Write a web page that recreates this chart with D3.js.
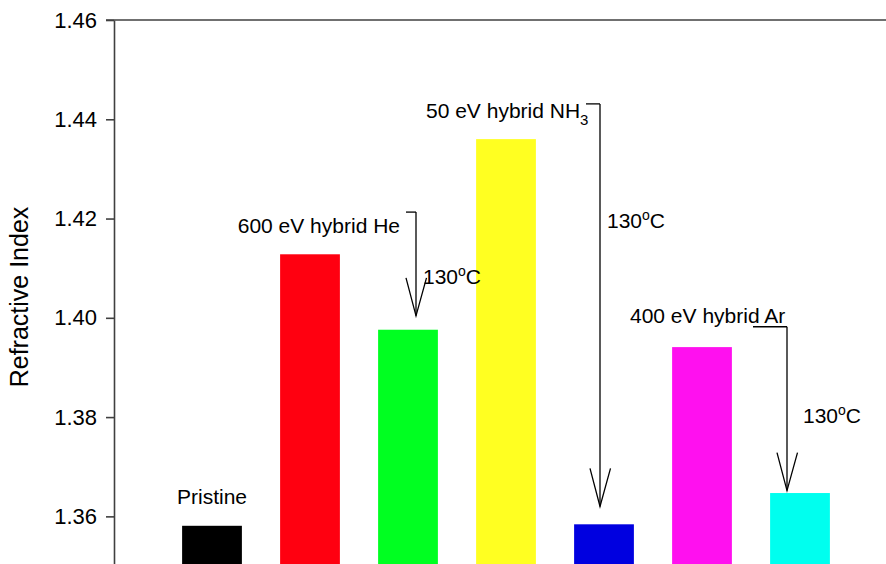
<!DOCTYPE html>
<html>
<head>
<meta charset="utf-8">
<script src="https://cdn.jsdelivr.net/npm/d3@7"></script>
<style>
  body { margin: 0; background: #fff; }
  text { font-family: "Liberation Sans", Arial, sans-serif; }
</style>
</head>
<body>
<div id="chart"></div>
<script>
// data
var samples = ["Pristine", "600 eV He", "600 eV He 130C", "50 eV NH3", "50 eV NH3 130C", "400 eV Ar", "400 eV Ar 130C"];
var refractiveIndex = [1.3581, 1.4128, 1.3976, 1.4360, 1.3584, 1.3941, 1.3647];
var barColors = ["#000000", "#ff0010", "#00ff21", "#ffff21", "#0000e0", "#ff10ef", "#00ffef"];
var yTicks = [1.36, 1.38, 1.40, 1.42, 1.44, 1.46];

// annotation arrows: from treated sample to annealed sample
var arrowTargets = ["600 eV He 130C", "50 eV NH3 130C", "400 eV Ar 130C"];
var arrowFrom = [1.4213, 1.4431, 1.3982];
var arrowTo = [1.4004, 1.3620, 1.3652];

var svgWidth = 886;
var svgHeight = 564;

var margin = { top: 20, left: 114 };

var svg = d3.select("#chart")
  .append("svg")
  .attr("width", svgWidth)
  .attr("height", svgHeight)
  .style("display", "block");

// scales
var xScale = d3.scaleBand()
  .domain(samples)
  .range([163, 849])
  .paddingInner(0.39)
  .paddingOuter(0.195);

var yScale = d3.scaleLinear()
  .domain([1.35, 1.46])
  .range([566, margin.top]);

// bars
svg.selectAll("rect.bar")
  .data(samples)
  .enter()
  .append("rect")
  .attr("class", "bar")
  .attr("x", d => xScale(d))
  .attr("width", xScale.bandwidth())
  .attr("y", (d, i) => yScale(refractiveIndex[i]))
  .attr("height", (d, i) => yScale(1.35) - yScale(refractiveIndex[i]))
  .attr("fill", (d, i) => barColors[i]);

// y axis
var leftAxis = d3.axisLeft(yScale)
  .tickValues(yTicks)
  .tickFormat(d3.format(".2f"))
  .tickSize(8)
  .tickPadding(9)
  .tickSizeOuter(0);

var yAxis = svg.append("g")
  .attr("transform", `translate(${margin.left}, 0)`)
  .call(leftAxis);

yAxis.select(".domain").attr("stroke", "#404040").attr("stroke-width", 1.6);
yAxis.selectAll(".tick line").attr("stroke", "#404040").attr("stroke-width", 1.6);
yAxis.selectAll(".tick text")
  .attr("fill", "#000")
  .style("font-size", "22px")
  .style("font-family", "'Liberation Sans', Arial, sans-serif");

// top frame line
svg.append("line")
  .attr("x1", margin.left - 8)
  .attr("x2", svgWidth)
  .attr("y1", yScale(1.46))
  .attr("y2", yScale(1.46))
  .attr("stroke", "#404040")
  .attr("stroke-width", 1.6);

// y axis label
svg.append("text")
  .attr("transform", "rotate(-90)")
  .attr("x", -297)
  .attr("y", 28)
  .attr("text-anchor", "middle")
  .style("font-size", "25px")
  .text("Refractive Index");

// Pristine label
svg.append("text")
  .attr("x", xScale("Pristine") + xScale.bandwidth() / 2)
  .attr("y", 504)
  .attr("text-anchor", "middle")
  .style("font-size", "21px")
  .text("Pristine");

// arrows
var arrowDx = [8, -4, -13];      // offset of arrow from bar centre
var bracketLen = [10, 14, 34];   // short horizontal stub at arrow top
var tempDx = [7, 7, 16];
var tempY = [284, 228, 423];

arrowTargets.forEach(function(target, i) {
  var ax = xScale(target) + xScale.bandwidth() / 2 + arrowDx[i];
  var y0 = yScale(arrowFrom[i]);
  var y1 = yScale(arrowTo[i]);
  var g = svg.append("g").attr("stroke", "#000").attr("stroke-width", 1.3).attr("fill", "none");
  g.append("line").attr("x1", ax - bracketLen[i]).attr("x2", ax).attr("y1", y0).attr("y2", y0);
  g.append("line").attr("x1", ax).attr("x2", ax).attr("y1", y0).attr("y2", y1);
  g.append("polyline")
    .attr("points", [[ax - 10, y1 - 38], [ax, y1], [ax + 10.5, y1 - 38]].map(p => p.join(",")).join(" "));

  var t = svg.append("text")
    .attr("x", ax + tempDx[i])
    .attr("y", tempY[i])
    .style("font-size", "21px");
  t.append("tspan").text("130");
  t.append("tspan").attr("dy", -8).style("font-size", "14px").text("o");
  t.append("tspan").attr("dy", 8).text("C");
});

// treatment labels
var heX = xScale("600 eV He 130C") + xScale.bandwidth() / 2 + arrowDx[0];
svg.append("text")
  .attr("x", heX - 16)
  .attr("y", 233)
  .attr("text-anchor", "end")
  .style("font-size", "21px")
  .text("600 eV hybrid He");

var nhX = xScale("50 eV NH3 130C") + xScale.bandwidth() / 2 + arrowDx[1];
var nh = svg.append("text")
  .attr("x", nhX - 174)
  .attr("y", 118)
  .style("font-size", "21px");
nh.append("tspan").text("50 eV hybrid NH");
nh.append("tspan").attr("dy", 7).style("font-size", "15px").text("3");

svg.append("text")
  .attr("x", 630)
  .attr("y", 323)
  .style("font-size", "21px")
  .text("400 eV hybrid Ar");
</script>
</body>
</html>
